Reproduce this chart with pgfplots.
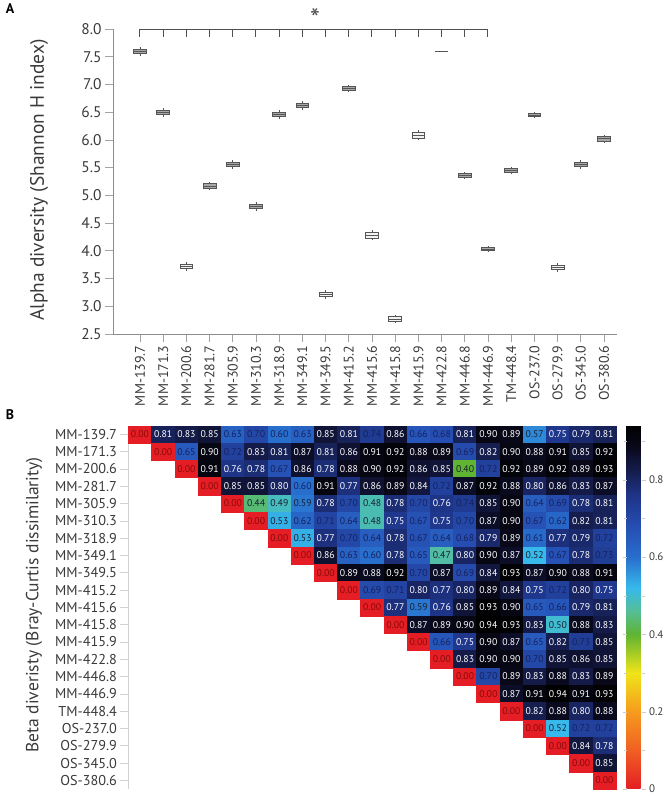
\documentclass[border=0pt]{standalone}
\usepackage{fontspec}
\setmainfont{PT Sans}
\usepackage{pgfplots}
\usepackage{pgfplotstable}
\usepgfplotslibrary{statistics}
\pgfplotsset{compat=1.18}

\definecolor{axgray}{HTML}{8C8C8C}
\definecolor{lblgray}{HTML}{3A3A3A}
\definecolor{brk}{HTML}{505050}
\definecolor{boxdraw}{HTML}{555555}
\definecolor{boxgray}{HTML}{A8A8A8}
\definecolor{boxwhite}{HTML}{F2F2F2}
\definecolor{zred}{HTML}{8B0A0A}
\definecolor{zdark}{HTML}{1A2030}
\definecolor{znavy}{HTML}{16215E}

\pgfdeclareplotmark{cell}{\pgfpathrectangle{\pgfpoint{-11.62bp}{-8.65bp}}{\pgfpoint{23.24bp}{17.3bp}}\pgfusepathqfillstroke}

\newcommand{\bx}[7]{\addplot[boxplot prepared={draw direction=y, draw position=#1, lower whisker=#2, lower quartile=#3, median=#4, upper quartile=#5, upper whisker=#6, box extend=0.55, whisker extend=0}, draw=boxdraw, fill=#7, line width=0.7bp] coordinates {};}

\pgfplotstableread[row sep=\\]{
x y v\\
0 0 0.00\\ 1 0 0.81\\ 2 0 0.83\\ 3 0 0.85\\ 4 0 0.63\\ 5 0 0.70\\ 6 0 0.60\\ 7 0 0.63\\ 8 0 0.85\\ 9 0 0.81\\ 10 0 0.74\\ 11 0 0.86\\ 12 0 0.66\\ 13 0 0.68\\ 14 0 0.81\\ 15 0 0.90\\ 16 0 0.89\\ 17 0 0.57\\ 18 0 0.75\\ 19 0 0.79\\ 20 0 0.81\\
1 1 0.00\\ 2 1 0.65\\ 3 1 0.90\\ 4 1 0.72\\ 5 1 0.83\\ 6 1 0.81\\ 7 1 0.87\\ 8 1 0.81\\ 9 1 0.86\\ 10 1 0.91\\ 11 1 0.92\\ 12 1 0.88\\ 13 1 0.89\\ 14 1 0.69\\ 15 1 0.82\\ 16 1 0.90\\ 17 1 0.88\\ 18 1 0.91\\ 19 1 0.85\\ 20 1 0.92\\
2 2 0.00\\ 3 2 0.91\\ 4 2 0.76\\ 5 2 0.78\\ 6 2 0.67\\ 7 2 0.86\\ 8 2 0.78\\ 9 2 0.88\\ 10 2 0.90\\ 11 2 0.92\\ 12 2 0.86\\ 13 2 0.85\\ 14 2 0.40\\ 15 2 0.72\\ 16 2 0.92\\ 17 2 0.89\\ 18 2 0.92\\ 19 2 0.89\\ 20 2 0.93\\
3 3 0.00\\ 4 3 0.85\\ 5 3 0.85\\ 6 3 0.80\\ 7 3 0.60\\ 8 3 0.91\\ 9 3 0.77\\ 10 3 0.86\\ 11 3 0.89\\ 12 3 0.84\\ 13 3 0.72\\ 14 3 0.87\\ 15 3 0.92\\ 16 3 0.88\\ 17 3 0.80\\ 18 3 0.86\\ 19 3 0.83\\ 20 3 0.87\\
4 4 0.00\\ 5 4 0.44\\ 6 4 0.49\\ 7 4 0.59\\ 8 4 0.78\\ 9 4 0.70\\ 10 4 0.48\\ 11 4 0.78\\ 12 4 0.70\\ 13 4 0.76\\ 14 4 0.74\\ 15 4 0.85\\ 16 4 0.90\\ 17 4 0.64\\ 18 4 0.69\\ 19 4 0.78\\ 20 4 0.81\\
5 5 0.00\\ 6 5 0.53\\ 7 5 0.62\\ 8 5 0.71\\ 9 5 0.64\\ 10 5 0.48\\ 11 5 0.75\\ 12 5 0.67\\ 13 5 0.75\\ 14 5 0.70\\ 15 5 0.87\\ 16 5 0.90\\ 17 5 0.67\\ 18 5 0.62\\ 19 5 0.82\\ 20 5 0.81\\
6 6 0.00\\ 7 6 0.53\\ 8 6 0.77\\ 9 6 0.70\\ 10 6 0.64\\ 11 6 0.78\\ 12 6 0.67\\ 13 6 0.64\\ 14 6 0.68\\ 15 6 0.79\\ 16 6 0.89\\ 17 6 0.61\\ 18 6 0.77\\ 19 6 0.79\\ 20 6 0.72\\
7 7 0.00\\ 8 7 0.86\\ 9 7 0.63\\ 10 7 0.60\\ 11 7 0.78\\ 12 7 0.65\\ 13 7 0.47\\ 14 7 0.80\\ 15 7 0.90\\ 16 7 0.87\\ 17 7 0.52\\ 18 7 0.67\\ 19 7 0.78\\ 20 7 0.73\\
8 8 0.00\\ 9 8 0.89\\ 10 8 0.88\\ 11 8 0.92\\ 12 8 0.70\\ 13 8 0.87\\ 14 8 0.69\\ 15 8 0.84\\ 16 8 0.93\\ 17 8 0.87\\ 18 8 0.90\\ 19 8 0.88\\ 20 8 0.91\\
9 9 0.00\\ 10 9 0.69\\ 11 9 0.71\\ 12 9 0.80\\ 13 9 0.77\\ 14 9 0.80\\ 15 9 0.89\\ 16 9 0.84\\ 17 9 0.75\\ 18 9 0.72\\ 19 9 0.80\\ 20 9 0.75\\
10 10 0.00\\ 11 10 0.77\\ 12 10 0.59\\ 13 10 0.76\\ 14 10 0.85\\ 15 10 0.93\\ 16 10 0.90\\ 17 10 0.65\\ 18 10 0.66\\ 19 10 0.79\\ 20 10 0.81\\
11 11 0.00\\ 12 11 0.87\\ 13 11 0.89\\ 14 11 0.90\\ 15 11 0.94\\ 16 11 0.93\\ 17 11 0.83\\ 18 11 0.50\\ 19 11 0.88\\ 20 11 0.83\\
12 12 0.00\\ 13 12 0.66\\ 14 12 0.75\\ 15 12 0.90\\ 16 12 0.87\\ 17 12 0.65\\ 18 12 0.82\\ 19 12 0.73\\ 20 12 0.85\\
13 13 0.00\\ 14 13 0.83\\ 15 13 0.90\\ 16 13 0.90\\ 17 13 0.70\\ 18 13 0.85\\ 19 13 0.86\\ 20 13 0.85\\
14 14 0.00\\ 15 14 0.70\\ 16 14 0.89\\ 17 14 0.83\\ 18 14 0.88\\ 19 14 0.83\\ 20 14 0.89\\
15 15 0.00\\ 16 15 0.87\\ 17 15 0.91\\ 18 15 0.94\\ 19 15 0.91\\ 20 15 0.93\\
16 16 0.00\\ 17 16 0.82\\ 18 16 0.88\\ 19 16 0.80\\ 20 16 0.88\\
17 17 0.00\\ 18 17 0.52\\ 19 17 0.72\\ 20 17 0.72\\
18 18 0.00\\ 19 18 0.84\\ 20 18 0.78\\
19 19 0.00\\ 20 19 0.85\\
20 20 0.00\\
}\bcdata

\pgfplotsset{
  celltext/.style={only marks, mark=none, point meta=explicit symbolic,
    nodes near coords,
    every node near coord/.append style={anchor=center, inner sep=0pt, font=\fontsize{9.8}{10}\selectfont, text=#1}},
}

\begin{document}
\begin{tikzpicture}
\path[use as bounding box] (0,0) rectangle (666bp,-796bp);

% ---------------- Panel A ----------------
\begin{axis}[
  at={(113bp,-334bp)}, anchor=south west, scale only axis,
  width=504bp, height=305bp,
  xmin=-1.16, xmax=20.56, ymin=2.5, ymax=8.0,
  axis x line*=bottom, axis y line*=left,
  axis line style={axgray, line width=0.9bp},
  xtick={0,...,20},
  xticklabels={MM-139.7,MM-171.3,MM-200.6,MM-281.7,MM-305.9,MM-310.3,MM-318.9,MM-349.1,MM-349.5,MM-415.2,MM-415.6,MM-415.8,MM-415.9,MM-422.8,MM-446.8,MM-446.9,TM-448.4,OS-237.0,OS-279.9,OS-345.0,OS-380.6},
  ytick={2.5,3.0,3.5,4.0,4.5,5.0,5.5,6.0,6.5,7.0,7.5,8.0},
  yticklabels={2.5,3.0,3.5,4.0,4.5,5.0,5.5,6.0,6.5,7.0,7.5,8.0},
  tick align=outside, major tick length=8bp,
  tick style={axgray!80, line width=0.7bp},
  x tick label style={rotate=90, anchor=east, font=\fontsize{14}{14}\selectfont, text=lblgray},
  y tick label style={font=\fontsize{15.5}{15.5}\selectfont, text=lblgray},
  clip=false,
]
\bx{0}{7.52}{7.56}{7.60}{7.64}{7.68}{boxgray}
\bx{1}{6.42}{6.46}{6.50}{6.54}{6.58}{boxgray}
\bx{2}{3.64}{3.68}{3.72}{3.76}{3.80}{boxwhite}
\bx{3}{5.09}{5.13}{5.17}{5.21}{5.25}{boxgray}
\bx{4}{5.48}{5.52}{5.56}{5.60}{5.64}{boxgray}
\bx{5}{4.72}{4.76}{4.80}{4.84}{4.88}{boxgray}
\bx{6}{6.38}{6.42}{6.46}{6.50}{6.54}{boxgray}
\bx{7}{6.54}{6.58}{6.62}{6.66}{6.70}{boxgray}
\bx{8}{3.14}{3.18}{3.22}{3.26}{3.30}{boxwhite}
\bx{9}{6.87}{6.90}{6.93}{6.96}{6.99}{boxgray}
\bx{10}{4.19}{4.23}{4.28}{4.33}{4.37}{boxwhite}
\bx{11}{2.69}{2.73}{2.77}{2.81}{2.85}{boxwhite}
\bx{12}{5.99}{6.03}{6.08}{6.13}{6.17}{boxwhite}
\bx{13}{7.60}{7.60}{7.60}{7.60}{7.60}{boxgray}
\bx{14}{5.30}{5.33}{5.36}{5.39}{5.42}{boxgray}
\bx{15}{3.97}{4.00}{4.03}{4.06}{4.09}{boxgray}
\bx{16}{5.39}{5.42}{5.45}{5.48}{5.51}{boxgray}
\bx{17}{6.39}{6.42}{6.45}{6.48}{6.51}{boxgray}
\bx{18}{3.62}{3.66}{3.70}{3.74}{3.78}{boxwhite}
\bx{19}{5.48}{5.52}{5.56}{5.60}{5.64}{boxgray}
\bx{20}{5.95}{5.98}{6.02}{6.06}{6.09}{boxgray}
% significance bracket
\addplot[brk, line width=1bp, unbounded coords=jump] coordinates {
 (0,7.86) (0,8.0) (15,8.0) (15,7.86) (1,nan)
 (1,8.0) (1,7.86) (2,nan) (2,8.0) (2,7.86) (3,nan) (3,8.0) (3,7.86) (4,nan)
 (4,8.0) (4,7.86) (5,nan) (5,8.0) (5,7.86) (6,nan) (6,8.0) (6,7.86) (7,nan)
 (7,8.0) (7,7.86) (8,nan) (8,8.0) (8,7.86) (9,nan) (9,8.0) (9,7.86) (10,nan)
 (10,8.0) (10,7.86) (11,nan) (11,8.0) (11,7.86) (12,nan) (12,8.0) (12,7.86) (13,nan)
 (13,8.0) (13,7.86) (14,nan) (14,8.0) (14,7.86)
};
\node[font=\fontsize{28}{28}\selectfont, text=brk] at (axis cs:7.55,8.19) {*};
\end{axis}

% ---------------- Panel B ----------------
\begin{axis}[
  at={(128.4bp,-789bp)}, anchor=south west, scale only axis,
  width=487.6bp, height=363.3bp,
  xmin=-0.5, xmax=20.5, ymin=-0.5, ymax=20.5, y dir=reverse,
  axis x line=none, axis y line*=left,
  axis line style={gray!35, line width=0.8bp},
  ytick={0,...,20},
  yticklabels={MM-139.7,MM-171.3,MM-200.6,MM-281.7,MM-305.9,MM-310.3,MM-318.9,MM-349.1,MM-349.5,MM-415.2,MM-415.6,MM-415.8,MM-415.9,MM-422.8,MM-446.8,MM-446.9,TM-448.4,OS-237.0,OS-279.9,OS-345.0,OS-380.6},
  tick align=outside, major tick length=8bp,
  ytick style={gray!35, line width=0.7bp},
  y tick label style={font=\fontsize{14.3}{14.3}\selectfont, text=lblgray},
  colormap={bc}{
    rgb255(0cm)=(228,30,36)
    rgb255(1cm)=(240,95,35)
    rgb255(2cm)=(246,155,30)
    rgb255(3cm)=(240,228,25)
    rgb255(4cm)=(95,180,50)
    rgb255(4.6cm)=(85,190,150)
    rgb255(5.2cm)=(55,185,235)
    rgb255(6cm)=(40,110,205)
    rgb255(6.8cm)=(38,78,178)
    rgb255(7.6cm)=(30,52,135)
    rgb255(8.2cm)=(22,30,80)
    rgb255(8.8cm)=(10,10,30)
    rgb255(9.4cm)=(0,0,0)},
  point meta min=0, point meta max=0.94,
  colorbar,
  colorbar style={
    at={(parent axis.north east)}, anchor=north west, xshift=2bp,
    scale only axis, width=15bp, height=363.3bp,
    ytick={0,0.2,0.4,0.6,0.8}, yticklabels={0,0.2,0.4,0.6,0.8},
    minor ytick={0.1,0.3,0.5,0.7,0.9},
    yticklabel style={font=\fontsize{11}{11}\selectfont, text=lblgray},
    axis line style={draw=none},
    tick style={gray!40}, major tick length=4bp, minor tick length=3bp, tick align=outside,
  },
  clip=false,
]
\addplot[scatter, only marks, mark=cell,
  point meta=\thisrow{v},
  scatter/use mapped color={draw=mapped color, fill=mapped color},
] table[x=x, y=y] {\bcdata};
\addplot[celltext=zred, restrict expr to domain={\thisrow{v}}{-1:0.005}] table[x=x, y=y, meta=v] {\bcdata};
\addplot[celltext=zdark, restrict expr to domain={\thisrow{v}}{0.005:0.595}] table[x=x, y=y, meta=v] {\bcdata};
\addplot[celltext=znavy, restrict expr to domain={\thisrow{v}}{0.595:0.745}] table[x=x, y=y, meta=v] {\bcdata};
\addplot[celltext=white, restrict expr to domain={\thisrow{v}}{0.745:2}] table[x=x, y=y, meta=v] {\bcdata};
\end{axis}

% labels
\node[font=\bfseries\fontsize{14}{14}\selectfont] at (10bp,-9bp) {A};
\node[font=\bfseries\fontsize{14}{14}\selectfont] at (10bp,-415bp) {B};
\node[rotate=90, font=\fontsize{19.5}{19.5}\selectfont, text=lblgray] at (39bp,-180bp) {Alpha diversity (Shannon H index)};
\node[rotate=90, font=\fontsize{17.6}{17.6}\selectfont, text=lblgray] at (34bp,-605bp) {Beta diveristy (Bray-Curtis dissimilarity)};
\end{tikzpicture}
\end{document}
